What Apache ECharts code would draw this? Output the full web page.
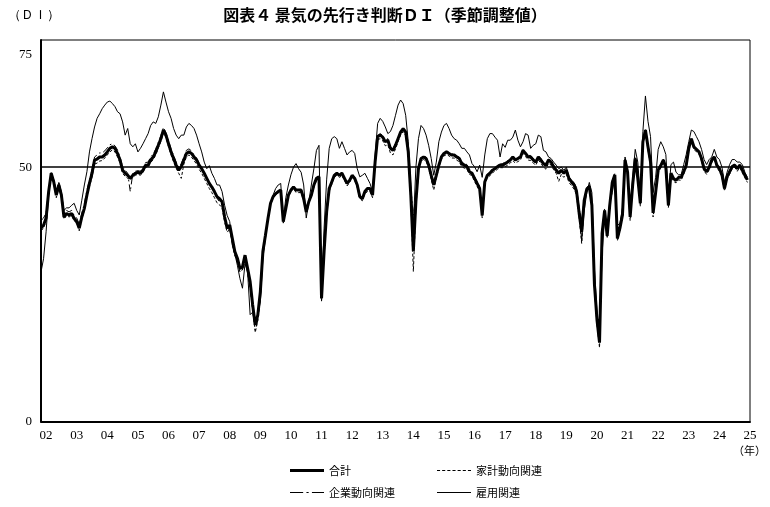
<!DOCTYPE html>
<html><head><meta charset="utf-8">
<script src="https://cdn.jsdelivr.net/npm/echarts@6/dist/echarts.min.js"></script>
<style>html,body{margin:0;padding:0;background:#fff}#c{width:770px;height:507px}</style>
</head><body><div id="c"></div>
<script>
// Monthly data, Jan 2002 – Feb 2025
const startYear = 2002;
const endYear = 2025;
const yTicks = [0, 50, 75];
const seriesNames = ['合計', '家計動向関連', '企業動向関連', '雇用関連'];

const total = [
 38.0,38.6,40.0,45.2,48.8,47.1,44.5,46.5,44.5,40.2,40.9,40.6,
 40.9,39.9,39.3,38.0,40.2,41.9,44.5,46.8,48.8,51.4,51.6,52.0,
 52.0,52.4,53.0,53.7,54.0,53.7,52.7,51.4,49.4,48.8,48.4,47.8,
 48.4,48.8,49.0,48.8,49.4,50.4,50.4,51.4,52.0,53.0,54.3,55.6,
 57.3,56.3,54.6,53.0,51.7,50.4,49.4,50.1,51.4,52.7,53.0,52.7,
 52.0,51.4,50.4,49.7,48.8,47.8,46.8,46.1,45.2,44.2,43.8,43.2,
 40.2,38.0,38.6,36.0,33.4,32.1,30.1,30.4,32.7,30.1,27.5,22.9,
 19.0,20.9,25.5,33.4,36.6,39.9,42.9,44.2,44.8,45.2,45.5,39.3,
 41.9,44.5,45.5,46.1,45.5,45.5,45.5,43.8,41.2,43.2,44.5,46.5,
 47.8,48.1,24.2,33.4,41.2,45.8,47.1,48.4,48.8,48.4,48.8,47.8,
 46.8,47.4,48.4,47.8,46.5,44.2,43.8,45.2,45.8,45.8,44.5,51.0,
 56.0,56.3,55.9,55.0,55.3,53.7,53.3,54.3,55.6,56.9,57.6,56.9,
 53.0,44.5,33.5,43.2,49.7,51.7,52.0,51.7,50.4,48.4,46.5,48.4,
 50.4,52.0,52.7,53.0,52.7,52.4,52.4,52.0,51.7,50.7,50.4,50.1,
 49.1,48.8,47.8,46.8,45.8,40.5,47.1,48.4,48.8,49.4,49.7,50.1,
 50.4,50.4,50.7,51.0,51.4,52.0,51.4,51.7,52.0,53.3,52.7,52.0,
 52.0,51.4,51.0,52.0,51.4,50.7,50.4,51.4,51.0,50.1,49.4,48.8,
 49.4,48.8,49.4,47.8,47.1,46.5,45.2,41.0,37.3,43.5,45.7,46.2,
 42.5,27.0,20.0,15.5,37.0,41.5,36.5,42.5,47.0,48.5,36.0,38.0,
 40.6,51.4,49.0,40.2,46.5,51.7,47.8,42.9,55.0,57.3,54.0,51.0,
 41.0,45.0,49.5,50.3,51.4,50.0,42.5,48.8,47.8,47.4,48.0,48.0,
 49.1,50.4,53.7,55.6,54.0,53.5,53.0,51.7,49.7,49.1,50.0,51.4,
 52.0,50.4,49.7,48.5,45.8,48.1,49.1,50.1,50.4,49.7,50.4,49.4,
 48.4,47.5
];

const household = [
 37.5,38.0,39.5,44.8,48.5,46.8,44.0,46.0,44.0,39.8,40.5,40.2,
 40.5,39.5,39.0,37.5,39.8,41.5,44.0,46.2,48.0,50.6,50.8,51.2,
 51.3,51.8,52.4,53.0,53.4,53.0,52.0,50.8,48.8,48.2,47.8,47.5,
 48.0,48.4,48.6,48.4,49.0,50.0,50.0,50.9,51.5,52.4,53.8,55.0,
 56.8,55.8,54.0,52.4,51.0,49.8,48.8,47.8,50.6,52.0,52.4,52.0,
 51.3,50.6,49.6,48.8,47.8,46.8,45.8,45.0,44.0,43.0,42.6,42.0,
 39.2,37.2,37.8,35.2,32.6,31.3,29.4,29.9,32.2,29.2,26.5,21.8,
 17.5,19.8,24.8,33.0,36.4,39.6,42.6,44.0,44.5,45.0,45.2,39.0,
 41.5,44.2,45.2,45.8,45.0,45.0,45.0,43.4,41.0,43.0,44.2,46.0,
 47.4,47.6,23.5,32.5,40.5,45.2,46.6,48.0,48.4,48.0,48.3,47.4,
 46.3,47.0,48.0,47.4,46.0,43.8,43.4,44.8,45.2,45.2,44.0,50.4,
 55.4,55.6,55.2,54.2,54.4,52.8,52.4,53.6,55.0,56.3,57.0,56.2,
 52.2,43.5,29.5,42.2,49.0,51.2,51.5,51.2,49.8,47.6,45.5,47.8,
 49.9,51.6,52.2,52.5,52.2,51.8,51.8,51.4,51.0,50.1,49.8,49.6,
 48.6,48.3,47.2,46.2,45.3,40.0,46.6,47.9,48.3,48.9,49.2,49.6,
 49.9,49.9,50.1,50.4,50.8,51.3,50.8,51.1,51.4,52.7,52.1,51.4,
 51.3,50.8,50.4,51.4,50.8,50.0,49.6,50.8,50.4,49.5,48.8,47.2,
 48.6,48.0,48.6,47.0,46.4,45.7,44.5,40.0,35.0,43.0,45.2,45.8,
 42.0,26.0,19.0,14.5,36.5,41.0,36.0,42.0,46.5,48.0,35.5,37.5,
 40.0,51.0,48.5,39.5,46.0,51.2,47.3,42.3,54.6,56.8,53.4,50.5,
 40.2,44.5,49.0,49.8,51.0,49.5,42.0,48.4,47.2,46.9,47.5,47.4,
 48.6,49.9,53.2,55.2,53.5,53.0,52.6,51.2,49.2,48.6,49.5,50.9,
 51.6,49.9,49.2,48.0,45.3,47.6,48.6,49.7,50.0,49.2,49.9,48.9,
 47.9,47.0
];

const corporate = [
 39.5,40.0,41.0,45.5,49.0,47.5,45.0,47.0,45.0,41.0,41.5,41.2,
 41.5,40.5,40.0,38.8,41.0,42.8,45.5,47.5,49.5,52.0,52.4,52.8,
 52.8,53.2,53.8,54.4,54.6,54.2,53.4,52.0,50.0,49.4,48.8,45.2,
 48.8,49.2,49.3,49.2,49.9,50.9,51.0,52.0,52.6,53.6,54.9,56.2,
 57.8,56.8,55.2,53.6,52.3,51.0,50.0,50.7,52.0,53.3,53.6,53.2,
 52.4,51.8,50.8,49.9,49.0,48.0,47.0,46.2,45.0,43.9,43.2,42.8,
 39.8,37.6,38.0,35.4,32.8,31.5,29.6,29.8,31.9,29.4,26.6,22.0,
 18.0,19.9,24.5,32.8,36.4,39.8,42.7,44.0,44.6,44.9,45.2,39.4,
 42.0,44.6,45.6,46.2,45.6,45.4,45.3,43.6,41.4,43.4,44.6,46.6,
 47.9,48.3,24.6,33.0,41.0,45.9,47.3,48.6,49.0,48.6,49.0,48.0,
 47.0,47.6,48.6,48.0,46.8,44.5,44.0,45.4,46.0,46.0,44.8,51.2,
 56.2,56.6,56.2,55.4,55.6,54.0,53.6,54.6,55.8,57.0,57.8,57.2,
 54.0,46.0,40.5,44.5,50.0,51.8,52.2,52.0,50.8,48.8,47.0,48.7,
 50.6,52.1,52.8,53.1,52.9,52.6,52.6,52.2,52.0,51.0,50.8,50.5,
 49.6,49.1,48.1,47.2,46.2,41.5,47.4,48.6,49.0,49.6,49.9,50.3,
 50.6,50.7,51.0,51.3,51.6,52.2,51.6,51.9,52.2,53.5,52.9,52.3,
 52.3,51.7,51.3,52.2,51.7,51.0,50.7,51.6,51.3,50.4,49.8,49.0,
 49.6,49.0,49.5,48.0,47.4,46.8,45.6,41.8,39.5,43.8,46.0,46.5,
 42.4,28.0,21.0,16.5,37.5,42.0,37.0,42.8,47.4,48.8,36.8,38.6,
 41.2,51.6,49.4,40.9,46.9,52.0,48.2,43.4,55.2,57.5,54.4,51.4,
 41.5,45.3,49.8,50.6,51.6,50.3,43.5,48.5,47.6,47.2,47.8,48.0,
 49.2,50.6,53.8,55.6,54.2,53.6,53.1,51.9,49.9,49.3,50.2,51.6,
 52.1,50.6,49.9,48.7,46.0,48.3,49.3,50.2,50.6,49.9,50.6,49.6,
 48.5,47.6
];

const employment = [
 29.4,32.0,37.3,44.5,48.8,47.5,45.0,47.0,45.0,41.5,42.0,42.0,
 42.5,42.9,41.5,40.6,43.5,46.5,49.1,53.0,55.6,57.9,59.6,60.5,
 61.5,62.2,62.8,63.0,62.5,61.9,60.9,60.5,58.9,56.3,57.6,54.6,
 54.0,54.6,53.0,53.7,54.6,55.6,56.6,58.2,58.9,58.6,59.9,62.2,
 64.8,62.8,60.9,59.6,57.6,56.3,55.6,56.3,56.3,57.9,58.6,58.2,
 57.6,56.3,54.6,53.0,51.0,49.7,50.3,48.8,47.8,46.5,46.5,45.2,
 42.5,40.5,39.3,34.7,33.0,30.7,28.1,26.2,31.0,29.5,21.0,21.5,
 19.5,21.0,23.5,32.0,36.0,40.0,43.0,44.5,45.8,46.5,46.8,39.5,
 44.0,46.5,48.5,50.0,50.7,49.7,49.0,46.5,40.0,43.2,46.5,49.7,
 53.3,54.3,25.5,38.0,47.5,53.7,55.6,56.0,55.6,53.7,55.0,53.7,
 52.4,53.0,53.3,52.7,49.7,48.1,48.4,48.8,47.8,46.8,45.2,52.4,
 58.6,59.6,59.0,57.9,56.6,57.0,58.2,60.2,62.2,63.2,62.5,60.2,
 55.0,46.5,38.6,50.0,55.6,58.2,57.6,56.3,54.3,51.7,48.4,51.0,
 55.0,56.9,58.2,58.6,57.6,56.3,55.6,55.3,54.6,53.7,53.7,53.0,
 52.4,50.7,50.1,49.1,50.4,48.0,52.4,55.6,56.6,56.6,55.9,55.3,
 52.0,54.6,53.9,55.3,55.3,55.9,57.3,55.3,54.0,55.0,56.6,56.3,
 53.7,54.3,54.6,56.3,56.0,53.3,53.0,52.0,51.7,51.0,50.4,49.7,
 50.0,49.4,50.0,48.1,47.4,47.0,46.0,42.0,35.5,41.5,45.0,47.0,
 45.0,30.0,21.5,16.5,33.0,40.0,38.0,43.0,45.0,48.0,38.5,39.0,
 42.0,52.0,49.5,41.0,48.0,53.5,51.0,44.0,57.0,64.0,59.0,56.0,
 45.0,48.0,53.5,55.0,54.0,52.5,44.0,50.5,51.0,49.0,48.5,48.5,
 50.5,52.5,55.0,57.3,57.0,56.0,55.0,53.5,51.5,50.5,51.5,52.0,
 53.5,52.0,51.5,50.0,47.0,49.0,50.5,51.5,51.5,51.0,51.0,50.5,
 49.0,48.0
];

// category months: Jan 2002 .. Mar 2025
const months = [];
for (let y = startYear; y <= endYear; y++) {
  for (let m = 1; m <= 12; m++) {
    if (y === endYear && m > 3) break;
    months.push(y + '-' + (m < 10 ? '0' + m : m));
  }
}

const serifFont = '"Liberation Serif", "DejaVu Serif", serif';
const jpFont = '"Noto Sans CJK JP", sans-serif';

// legend icon shapes (style only)
let dashPath = 'path://';
for (let x = 0; x < 34; x += 5) dashPath += 'M' + x + ',0H' + (x + 3) + 'V1H' + x + 'Z';
const icons = {
  '合計': 'path://M0,0H34V3H0Z',
  '家計動向関連': dashPath,
  '企業動向関連': 'path://M0,0H12V1H0Z M15,0H17V1H15Z M20,0H31V1H20Z',
  '雇用関連': 'path://M0,0H34V1H0Z'
};

const chart = echarts.init(document.getElementById('c'), null, {renderer: 'canvas'});

function legendAt(name, left, top) {
  return {
    data: [name], left: left, top: top, itemWidth: 34, itemHeight: 10, itemGap: 0,
    icon: icons[name],
    itemStyle: {color: '#000', borderWidth: 0},
    textStyle: {fontFamily: jpFont, fontSize: 11, color: '#000'}
  };
}

chart.setOption({
  animation: false,
  backgroundColor: '#fff',
  title: {
    text: '図表４ 景気の先行き判断ＤＩ（季節調整値）',
    left: 'center', top: 2,
    textStyle: {fontFamily: jpFont, fontSize: 16, fontWeight: 'bold', color: '#000'}
  },
  graphic: [
    {type: 'text', left: 8, top: 9, style: {text: '（ＤＩ）', font: '13px ' + serifFont, fill: '#000'}},
    {type: 'text', left: 733, top: 445, style: {text: '（年）', font: '11px ' + jpFont, fill: '#000'}}
  ],
  legend: [
    legendAt('合計', 285, 460),
    legendAt('家計動向関連', 432, 460),
    legendAt('企業動向関連', 285, 482),
    legendAt('雇用関連', 432, 482)
  ],
  grid: {left: 41, right: 20, top: 40, bottom: 85.5, show: true, borderColor: '#000', borderWidth: 1},
  xAxis: {
    type: 'category', data: months, boundaryGap: false,
    axisLine: {show: true, lineStyle: {color: '#000', width: 2}},
    axisTick: {show: false},
    splitLine: {show: false},
    axisLabel: {
      interval: function (i, v) { return v.slice(5) === '03'; },
      formatter: function (v) { return v.slice(2, 4); },
      showMaxLabel: true, showMinLabel: true,
      fontFamily: serifFont, fontSize: 13, color: '#000', margin: 8
    }
  },
  yAxis: {
    type: 'value', min: 0, max: 75, interval: 25,
    axisLine: {show: true, lineStyle: {color: '#000', width: 2}},
    axisTick: {show: false},
    splitLine: {show: false},
    axisLabel: {
      fontFamily: serifFont, fontSize: 13, color: '#000', margin: 9,
      formatter: function (v) {
        if (yTicks.indexOf(v) < 0) return '';
        return v === 75 ? '{t|75}' : String(v);
      },
      rich: {t: {fontFamily: serifFont, fontSize: 13, color: '#000', padding: [30, 0, 0, 0]}}
    }
  },
  series: [
    {name: seriesNames[3], type: 'line', data: employment, symbol: 'none', z: 2,
     lineStyle: {color: '#000', width: 1}, itemStyle: {color: '#000'}},
    {name: seriesNames[2], type: 'line', data: corporate, symbol: 'none', z: 3,
     lineStyle: {color: '#000', width: 1, type: [7, 3, 1.5, 3]}, itemStyle: {color: '#000'}},
    {name: seriesNames[1], type: 'line', data: household, symbol: 'none', z: 3,
     lineStyle: {color: '#000', width: 1, type: [3, 2]}, itemStyle: {color: '#000'}},
    {name: seriesNames[0], type: 'line', data: total, symbol: 'none', z: 4,
     lineStyle: {color: '#000', width: 3}, itemStyle: {color: '#000'},
     markLine: {silent: true, symbol: 'none', label: {show: false},
       lineStyle: {color: '#000', width: 1.5, type: 'solid'}, data: [{yAxis: 50}]}}
  ]
});
</script>
</body></html>
